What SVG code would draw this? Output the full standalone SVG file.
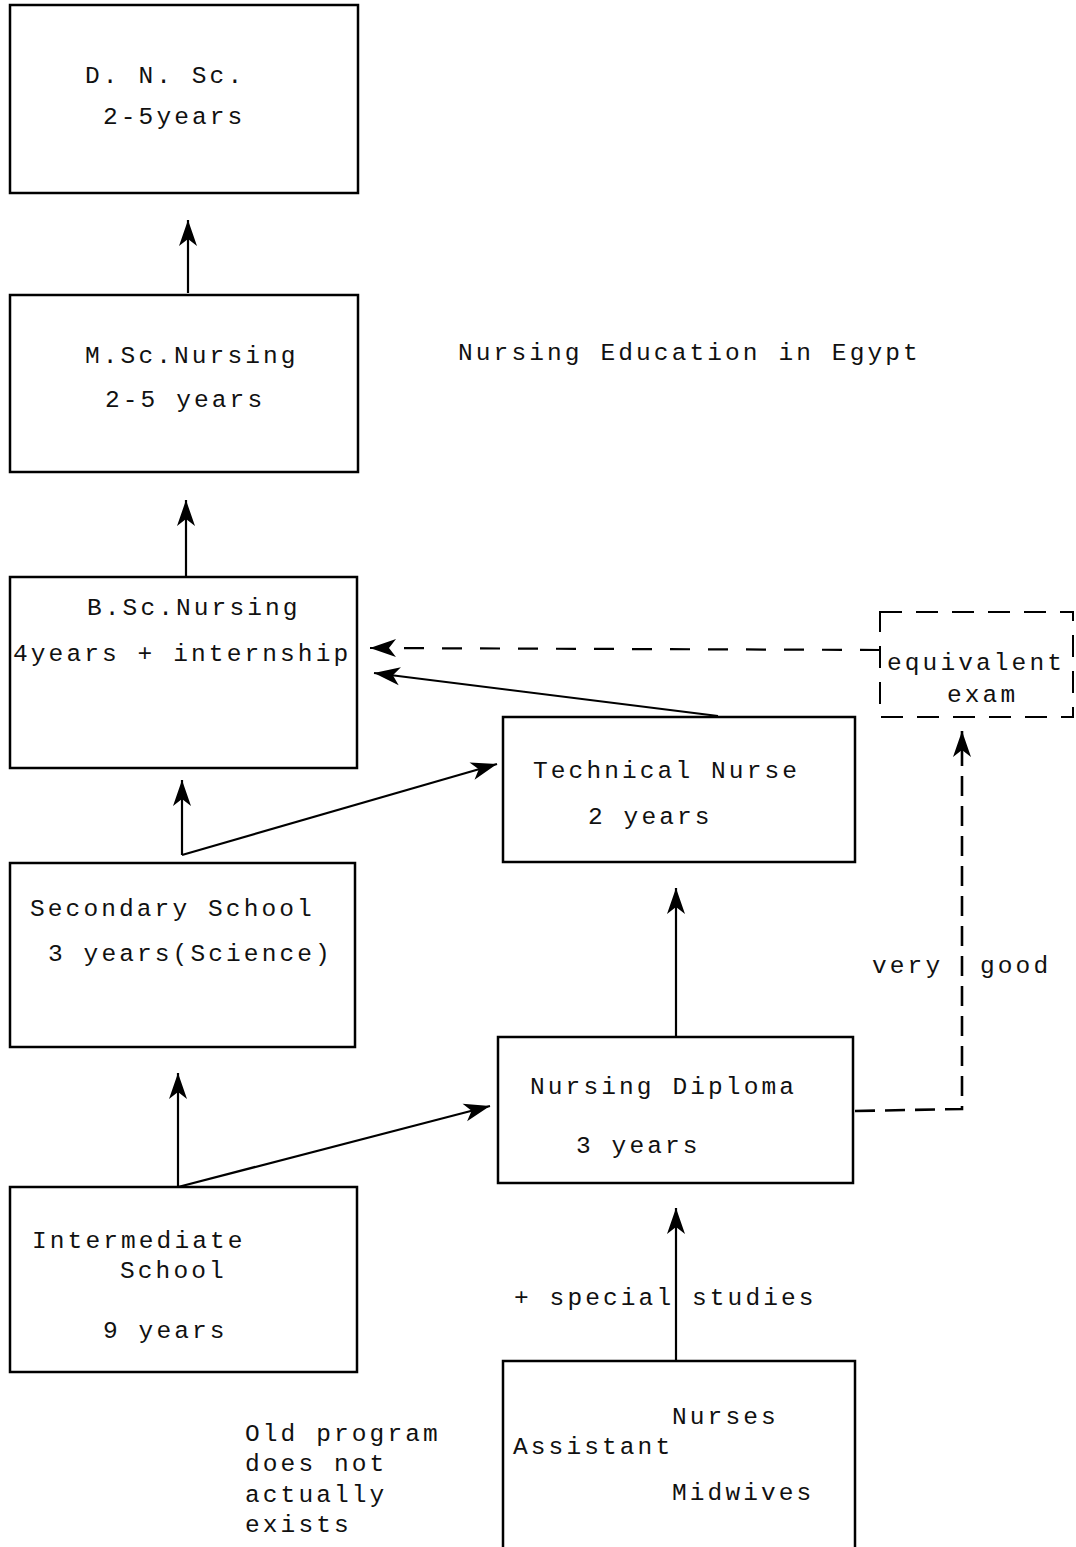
<svg xmlns="http://www.w3.org/2000/svg" width="1076" height="1547" viewBox="0 0 1076 1547">
<style>
  .box { fill: none; stroke: #000; stroke-width: 2.5; }
  .dbox { fill: none; stroke: #000; stroke-width: 2; stroke-dasharray: 22 14; }
  .t { font-family: "Liberation Mono", "DejaVu Sans Mono", monospace; font-size: 24.5px; letter-spacing: 3.1px; fill: #111; }
  .ln { fill: none; stroke: #000; stroke-width: 2.2; }
  .dl { fill: none; stroke: #000; stroke-width: 2.2; stroke-dasharray: 20 18; }
  .dv { fill: none; stroke: #000; stroke-width: 2.6; stroke-dasharray: 20 10; }
</style>
<defs>
  <marker id="ah" viewBox="-27 -10 29 20" markerWidth="29" markerHeight="20" refX="0" refY="0" orient="auto" markerUnits="userSpaceOnUse">
    <path d="M0,0 L-26,-9 L-19,0 L-26,9 Z" fill="#000"/>
  </marker>
</defs>
<rect width="1076" height="1547" fill="#fff"/>

<g id="connectors">
  <line class="ln" x1="188" y1="293" x2="188" y2="220" marker-end="url(#ah)"/>
  <line class="ln" x1="186" y1="576" x2="186" y2="500" marker-end="url(#ah)"/>
  <line class="ln" x1="182" y1="855" x2="182" y2="780" marker-end="url(#ah)"/>
  <line class="ln" x1="182" y1="855" x2="497" y2="764" marker-end="url(#ah)"/>
  <line class="ln" x1="178" y1="1187" x2="178" y2="1073" marker-end="url(#ah)"/>
  <line class="ln" x1="178" y1="1187" x2="490" y2="1106" marker-end="url(#ah)"/>
  <line class="ln" x1="676" y1="1036" x2="676" y2="888" marker-end="url(#ah)"/>
  <line class="ln" x1="676" y1="1361" x2="676" y2="1208" marker-end="url(#ah)"/>
  <line class="ln" x1="718" y1="716" x2="374" y2="673" marker-end="url(#ah)"/>
  <line class="dl" x1="880" y1="650" x2="370" y2="648" marker-end="url(#ah)"/>
  <polyline class="dv" points="855,1111 962,1109 962,731" marker-end="url(#ah)"/>
</g>

<g id="dnsc">
  <rect class="box" x="10" y="5" width="348" height="188"/>
  <text class="t" x="85" y="83">D. N. Sc.</text>
  <text class="t" x="103" y="124">2-5years</text>
</g>
<g id="msc">
  <rect class="box" x="10" y="295" width="348" height="177"/>
  <text class="t" x="85" y="363">M.Sc.Nursing</text>
  <text class="t" x="105" y="407">2-5 years</text>
</g>
<g id="bsc">
  <rect class="box" x="10" y="577" width="347" height="191"/>
  <text class="t" x="87" y="615">B.Sc.Nursing</text>
  <text class="t" x="13" y="661">4years + internship</text>
</g>
<g id="secondary">
  <rect class="box" x="10" y="863" width="345" height="184"/>
  <text class="t" x="30" y="916">Secondary School</text>
  <text class="t" x="48" y="961">3 years(Science)</text>
</g>
<g id="intermediate">
  <rect class="box" x="10" y="1187" width="347" height="185"/>
  <text class="t" x="32" y="1248">Intermediate</text>
  <text class="t" x="120" y="1278">School</text>
  <text class="t" x="103" y="1338">9 years</text>
</g>
<g id="technical">
  <rect class="box" x="503" y="717" width="352" height="145"/>
  <text class="t" x="533" y="778">Technical Nurse</text>
  <text class="t" x="588" y="824">2 years</text>
</g>
<g id="diploma">
  <rect class="box" x="498" y="1037" width="355" height="146"/>
  <text class="t" x="530" y="1094">Nursing Diploma</text>
  <text class="t" x="576" y="1153">3 years</text>
</g>
<g id="nam">
  <rect class="box" x="503" y="1361" width="352" height="190"/>
  <text class="t" x="672" y="1424">Nurses</text>
  <text class="t" x="513" y="1454">Assistant</text>
  <text class="t" x="672" y="1500">Midwives</text>
</g>
<g id="equivalent">
  <rect class="dbox" x="880" y="612" width="193" height="105"/>
  <text class="t" x="887" y="670">equivalent</text>
  <text class="t" x="947" y="702">exam</text>
</g>

<g id="labels">
  <text class="t" x="458" y="360">Nursing Education in Egypt</text>
  <text class="t" x="872" y="973">very</text>
  <text class="t" x="980" y="973">good</text>
  <text class="t" x="514" y="1305">+ special</text>
  <text class="t" x="692" y="1305">studies</text>
  <text class="t" x="245" y="1441">Old program</text>
  <text class="t" x="245" y="1471">does not</text>
  <text class="t" x="245" y="1502">actually</text>
  <text class="t" x="245" y="1532">exists</text>
</g>
</svg>
